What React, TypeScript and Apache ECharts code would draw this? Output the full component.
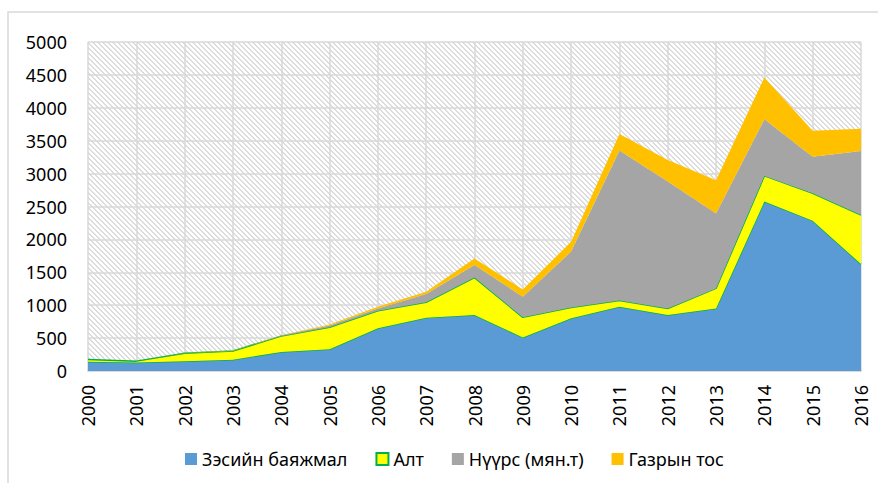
import React, { useEffect, useRef } from "react";
import * as echarts from "echarts";

const years = ["2000","2001","2002","2003","2004","2005","2006","2007","2008","2009","2010","2011","2012","2013","2014","2015","2016"];
const copper = [140,130,150,170,290,330,650,810,850,510,800,975,850,950,2575,2285,1625];
const gold = [35,20,120,135,240,335,265,235,570,305,165,95,100,305,390,415,745];
const coal = [0,0,0,0,10,25,35,125,190,315,850,2280,1930,1140,860,555,975];
const oil = [0,0,5,5,5,15,25,35,100,110,150,250,325,505,635,395,335];
const seriesNames = ["Зэсийн баяжмал", "Алт", "Нүүрс (мян.т)", "Газрын тос"];
const yTicks = { min: 0, max: 5000, interval: 500 };

function makeHatch(): string {
  const c = document.createElement("canvas");
  const n = 5;
  c.width = n;
  c.height = n;
  const ctx = c.getContext("2d")!;
  ctx.fillStyle = "#ffffff";
  ctx.fillRect(0, 0, n, n);
  ctx.fillStyle = "#dcdcdc";
  for (let i = 0; i < n; i++) {
    ctx.fillRect(i, i, 1, 1);
    ctx.fillRect((i + 1) % n, i, 1, 1);
  }
  return c.toDataURL();
}

export default function App() {
  const ref = useRef<HTMLDivElement>(null);
  useEffect(() => {
    if (!ref.current) return;
    const chart = echarts.init(ref.current, undefined, { renderer: "svg" });
    const font = "Noto Sans";
    const fs = 18;
    const gridLeft = 88, gridTop = 42, gridRight = 17, gridBottom = 112;
    const hatch = makeHatch();
    const green = "#00B050";
    const colors = ["#5B9BD5", "#FFFF00", "#A5A5A5", "#FFC000"];
    const mk = (i: number, data: number[], lineColor: string, lineWidth: number) => ({
      name: seriesNames[i],
      type: "line",
      stack: "total",
      data,
      symbol: "none",
      showSymbol: false,
      lineStyle: { color: lineColor, width: lineWidth, opacity: lineWidth > 0 ? 1 : 0 },
      itemStyle: { color: colors[i] },
      areaStyle: { color: colors[i], opacity: 1 },
      z: 2 + i,
    });
    chart.setOption({
      animation: false,
      backgroundColor: "#ffffff",
      textStyle: { fontFamily: font },
      graphic: [
        {
          type: "rect",
          silent: true,
          z: -20,
          shape: { x: 8, y: 12, width: 900, height: 520 },
          style: { fill: "#ffffff", stroke: "#d9d9d9", lineWidth: 1.5 },
        },
        {
          type: "rect",
          silent: true,
          z: -10,
          shape: { x: gridLeft, y: gridTop, width: 878 - gridLeft - gridRight, height: 483 - gridTop - gridBottom },
          style: { fill: { image: hatch, repeat: "repeat" } as any },
        },
      ],
      grid: { left: gridLeft, top: gridTop, right: gridRight, bottom: gridBottom, containLabel: false },
      legend: {
        left: 180,
        top: 445,
        icon: "rect",
        itemWidth: 12,
        itemHeight: 12,
        itemGap: 28,
        textStyle: { fontFamily: font, fontSize: fs, color: "#000" },
        data: [
          { name: seriesNames[0], itemStyle: { color: colors[0], borderWidth: 0 } },
          { name: seriesNames[1], itemStyle: { color: colors[1], borderColor: green, borderWidth: 2 } },
          { name: seriesNames[2], itemStyle: { color: colors[2], borderWidth: 0 } },
          { name: seriesNames[3], itemStyle: { color: colors[3], borderWidth: 0 } },
        ],
      },
      xAxis: {
        type: "category",
        data: years,
        boundaryGap: false,
        axisLine: { show: true, lineStyle: { color: "#d9d9d9", width: 2 } },
        axisTick: { show: false },
        axisLabel: { rotate: 90, margin: 14, fontFamily: font, fontSize: fs, color: "#000" },
        splitLine: { show: true, lineStyle: { color: "#d9d9d9", width: 1.5 } },
      },
      yAxis: {
        type: "value",
        min: yTicks.min,
        max: yTicks.max,
        interval: yTicks.interval,
        axisLine: { show: false },
        axisTick: { show: false },
        axisLabel: { margin: 21, fontFamily: font, fontSize: fs, color: "#000", formatter: (v: number) => String(v) },
        splitLine: { show: true, lineStyle: { color: "#d9d9d9", width: 1.5 } },
      },
      series: [
        mk(0, copper, green, 1.5),
        mk(1, gold, green, 1.5),
        mk(2, coal, colors[2], 0),
        mk(3, oil, colors[3], 0),
      ],
    });
    return () => chart.dispose();
  }, []);
  return (
    <div
      ref={ref}
      style={{ position: "fixed", left: 0, top: 0, width: 878, height: 483 }}
    />
  );
}
